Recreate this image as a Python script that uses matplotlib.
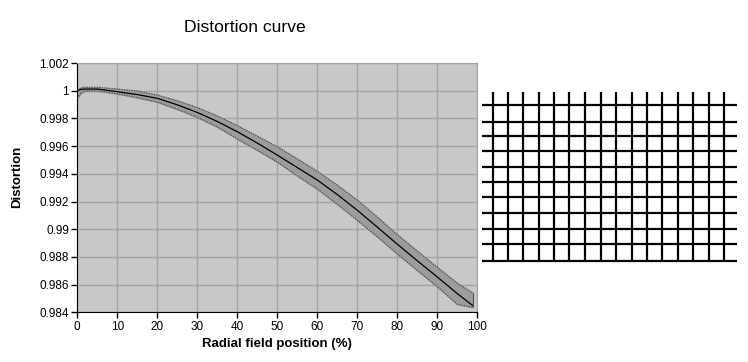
import matplotlib.pyplot as plt
import numpy as np

plt.rcParams["font.family"] = ["Liberation Sans", "DejaVu Sans"]

# Distortion curve
pos = [0, 1, 2, 5, 10, 15, 20, 25, 30, 35, 40, 45, 50, 55, 60, 65, 70, 75, 80, 85, 90, 95, 98.8]
dist = [1.0000, 1.0001, 1.00012, 1.00012, 0.99993, 0.99972, 0.99945, 0.99898, 0.99843,
        0.99778, 0.99704, 0.99622, 0.99535, 0.99445, 0.99355, 0.99250, 0.99137, 0.99015,
        0.98892, 0.98772, 0.98655, 0.98535, 0.98450]
upper = [1.00005, 1.00022, 1.00025, 1.00025, 1.00012, 0.99998, 0.99969, 0.99928, 0.99878,
         0.99818, 0.99748, 0.99672, 0.99595, 0.99508, 0.99418, 0.99318, 0.99210, 0.99088,
         0.98960, 0.98842, 0.98725, 0.98610, 0.98542]
lower = [0.99945, 0.99985, 0.99998, 0.99998, 0.99978, 0.99950, 0.99918, 0.99866, 0.99808,
         0.99738, 0.99652, 0.99570, 0.99485, 0.99385, 0.99290, 0.99180, 0.99065, 0.98945,
         0.98822, 0.98702, 0.98585, 0.98458, 0.98436]

xticks = list(range(0, 101, 10))
yticks = [0.984, 0.986, 0.988, 0.99, 0.992, 0.994, 0.996, 0.998, 1.0, 1.002]
ytick_labels = ["0.984", "0.986", "0.988", "0.99", "0.992", "0.994", "0.996", "0.998", "1", "1.002"]

# Distorted grid picture (line positions in pixels)
grid_cols = [493, 508, 523, 539, 554, 569, 585, 601, 616, 632, 647, 662, 678, 693, 709, 724]
grid_rows = [105, 121.7, 136, 151, 167, 182, 197, 213, 229, 244, 261]

W, H = 748, 362
fig = plt.figure(figsize=(W / 100, H / 100), dpi=100)
ax = fig.add_axes([77.3 / W, 1 - 312.3 / H, 400 / W, 249.3 / H])
ax.set_facecolor("#c8c8c8")
ax.fill_between(pos, lower, upper, color="#9c9c9c", zorder=2)
ax.plot(pos, upper, color="#505050", lw=0.9, ls=(0, (1, 1)), zorder=3)
ax.plot(pos, lower, color="#505050", lw=0.9, ls=(0, (1, 1)), zorder=3)
ax.plot([pos[-1], pos[-1]], [lower[-1], upper[-1]], color="#505050", lw=0.8, zorder=3)
ax.plot(pos, dist, color="black", lw=0.9, zorder=4)

ax.set_xlim(0, 100)
ax.set_ylim(0.984, 1.002)
ax.set_xticks(xticks)
ax.set_yticks(yticks)
ax.set_yticklabels(ytick_labels)
ax.grid(True, color="#a4a4a4", lw=1.0, zorder=1)
ax.set_axisbelow(True)
for s in ["top", "right"]:
    ax.spines[s].set_color("#a4a4a4")
for s in ["left", "bottom"]:
    ax.spines[s].set_color("black")
ax.tick_params(direction="out", length=4, width=1, labelsize=8.5, pad=2)

fig.text(277 / W, 1 - 343.5 / H, "Radial field position (%)", ha="center", va="center",
         fontsize=9.5, fontweight="bold")
fig.text(17.3 / W, 1 - 177 / H, "Distortion", ha="center", va="center", rotation=90,
         fontsize=9.5, fontweight="bold")
fig.text(245 / W, 1 - 27 / H, "Distortion curve", ha="center", va="center", fontsize=12.6)

gx = fig.add_axes([480 / W, 1 - 266 / H, 260 / W, 178 / H])
gx.set_xlim(480, 740)
gx.set_ylim(266, 88)
gx.axis("off")
for c in grid_cols:
    gx.plot([c, c], [92, 262], color="black", lw=1.6, solid_capstyle="butt")
for r in grid_rows:
    gx.plot([482, 737], [r, r], color="black", lw=1.6, solid_capstyle="butt")

fig.savefig("out.png", dpi=100)
